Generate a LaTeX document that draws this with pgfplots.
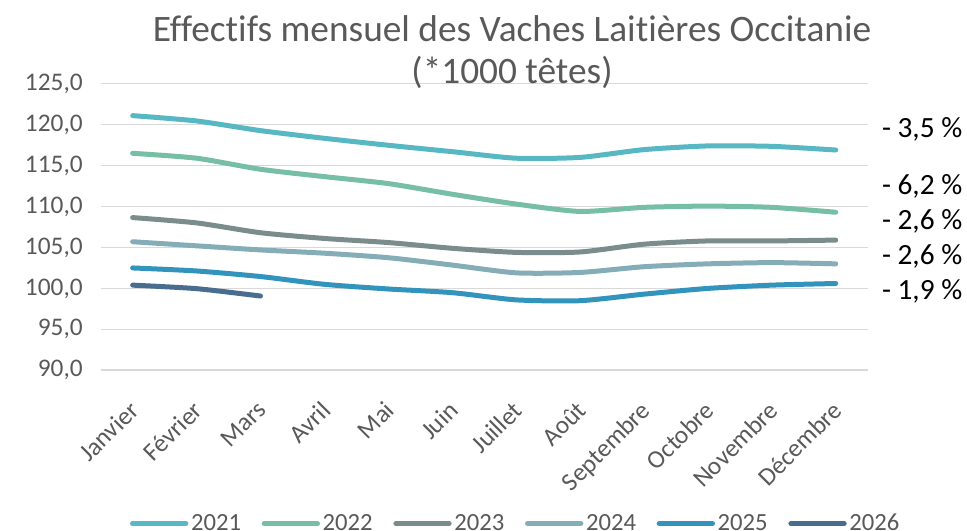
\documentclass[border=0pt]{standalone}
\usepackage{fontspec}
\setmainfont{Carlito}[Ligatures=NoCommon]
\usepackage{pgfplots}
\pgfplotsset{compat=1.18}
\definecolor{c21}{HTML}{57B7C3}
\definecolor{c22}{HTML}{76BFA4}
\definecolor{c23}{HTML}{7B8C8C}
\definecolor{c24}{HTML}{84ADB7}
\definecolor{c25}{HTML}{3294BD}
\definecolor{c26}{HTML}{486D8F}
\definecolor{gridc}{HTML}{D9D9D9}
\definecolor{txtc}{HTML}{595959}
\begin{document}
\begin{tikzpicture}[x=0.75pt,y=0.75pt]
\begin{axis}[
  name=ax,
  scale only axis, width=575.25pt, height=214.95pt,
  xmin=-0.5, xmax=11.5, ymin=90, ymax=125,
  ytick={90,95,100,105,110,115,120,125},
  xtick={0,...,11},
  xticklabels={Janvier,Février,Mars,Avril,Mai,Juin,Juillet,Août,Septembre,Octobre,Novembre,Décembre},
  ymajorgrids, grid style={draw=gridc, line width=1.2pt},
  axis line style={draw=none},
  major tick length=0pt,
  clip=false,
  /pgf/number format/assume math mode=true,
  yticklabel={\pgfmathprintnumber[fixed,fixed zerofill,precision=1,use comma]{\tick}},
  yticklabel style={font=\fontsize{19}{22}\selectfont, text=txtc, anchor=east, xshift=-10pt},
  xticklabel style={font=\fontsize{19}{22}\selectfont, text=txtc, rotate=45, anchor=north east, inner sep=2pt, yshift=-11pt, xshift=-16pt},
  legend columns=6,
  legend style={at={(axis description cs:0.5415,-0.535)}, anchor=center, draw=none, fill=none,
    font=\fontsize{18.5}{21}\selectfont, text=txtc,
    /tikz/every even column/.append style={column sep=13.5pt}},
  legend image code/.code={\draw[line width=3.75pt, line cap=round, #1] (0pt,0pt) -- (40pt,0pt);},
  every axis plot/.append style={line width=3.75pt, line cap=round, line join=round, mark=none, smooth, tension=0.4},
]
\addplot[c21] coordinates {(0,121.1) (1,120.45) (2,119.27) (3,118.33) (4,117.48) (5,116.7) (6,115.9) (7,116.0) (8,116.95) (9,117.4) (10,117.35) (11,116.9)};
\addlegendentry{2021}
\addplot[c22] coordinates {(0,116.5) (1,115.9) (2,114.55) (3,113.65) (4,112.8) (5,111.5) (6,110.3) (7,109.4) (8,109.9) (9,110.05) (10,109.9) (11,109.3)};
\addlegendentry{2022}
\addplot[c23] coordinates {(0,108.65) (1,108.0) (2,106.8) (3,106.1) (4,105.6) (5,104.9) (6,104.4) (7,104.45) (8,105.4) (9,105.8) (10,105.8) (11,105.9)};
\addlegendentry{2023}
\addplot[c24] coordinates {(0,105.7) (1,105.2) (2,104.7) (3,104.3) (4,103.75) (5,102.85) (6,101.9) (7,101.95) (8,102.65) (9,103.0) (10,103.15) (11,103.0)};
\addlegendentry{2024}
\addplot[c25] coordinates {(0,102.5) (1,102.13) (2,101.45) (3,100.5) (4,99.93) (5,99.48) (6,98.6) (7,98.5) (8,99.3) (9,100.0) (10,100.4) (11,100.6)};
\addlegendentry{2025}
\addplot[c26] coordinates {(0,100.4) (1,99.97) (2,99.07)};
\addlegendentry{2026}
\node[anchor=west, font=\fontsize{22}{26}\selectfont] at (axis cs:11.65,119.43) {- 3,5 \%};
\node[anchor=west, font=\fontsize{22}{26}\selectfont] at (axis cs:11.65,112.42) {- 6,2 \%};
\node[anchor=west, font=\fontsize{22}{26}\selectfont] at (axis cs:11.65,108.15) {- 2,6 \%};
\node[anchor=west, font=\fontsize{22}{26}\selectfont] at (axis cs:11.65,103.88) {- 2,6 \%};
\node[anchor=west, font=\fontsize{22}{26}\selectfont] at (axis cs:11.65,99.6) {- 1,9 \%};
\end{axis}
\pgfresetboundingbox
\path[use as bounding box] ([shift={(-100.7,-160.7)}]ax.south west) rectangle ([shift={(866.3,370.3)}]ax.south west);
\node[font=\fontsize{28}{31}\selectfont, text=txtc, align=center] at ([shift={(411.3,318.3)}]ax.south west) {Effectifs mensuel des Vaches Laitières Occitanie\\(*1000 têtes)};
\end{tikzpicture}
\end{document}
